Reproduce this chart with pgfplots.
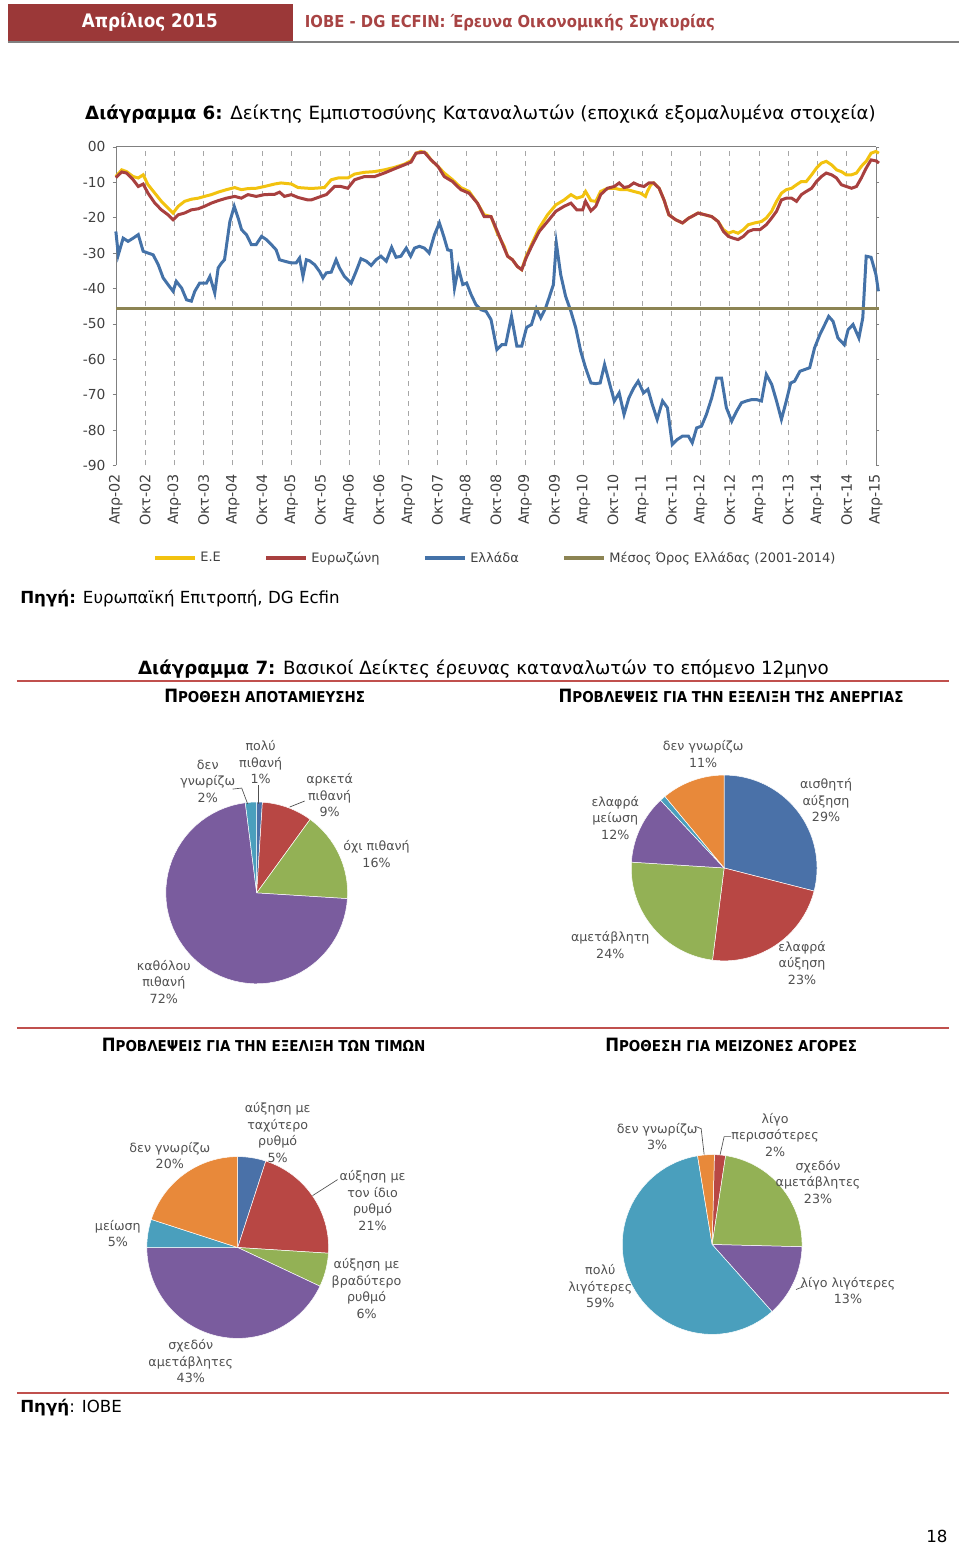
\documentclass[border=0pt]{standalone}
\usepackage{pgfplots}
\pgfplotsset{compat=1.18}
\usepackage{fontspec}
\setmainfont{DejaVu Sans}
\newfontfamily\cond{DejaVu Sans Condensed}

\definecolor{headred}{HTML}{9B3838}
\definecolor{headtxt}{HTML}{A84444}
\definecolor{rulered}{HTML}{C0504D}
\definecolor{lbltext}{HTML}{505050}
\definecolor{ticktext}{HTML}{404040}
\definecolor{euy}{HTML}{F2C20F}
\definecolor{ezr}{HTML}{A8403F}
\definecolor{grb}{HTML}{4472A8}
\definecolor{avgc}{HTML}{8C8453}
\definecolor{pblue}{HTML}{4A71A8}
\definecolor{pred}{HTML}{B84744}
\definecolor{pgreen}{HTML}{93B155}
\definecolor{ppurple}{HTML}{7A5C9E}
\definecolor{paqua}{HTML}{4A9FBD}
\definecolor{porange}{HTML}{E8893A}

% one pie slice, from cumulative share #1 to #2 (percent), clockwise from 12 o'clock
\newcommand{\slice}[3]{%
  \addplot[fill=#3, draw=white, line width=0.3pt, domain={90-3.6*(#2)}:{90-3.6*(#1)}, samples=60]
    ({cos(x)},{sin(x)}) -- (0,0) -- cycle;}

\pgfplotsset{
  pie/.style={hide axis, scale only axis, xmin=-1, xmax=1, ymin=-1, ymax=1,
    width=#1, height=#1, anchor=center, clip=false},
}

\begin{document}
\begin{tikzpicture}[x=0.6pt, y=-0.6pt,
  lbl/.style={align=center, text=lbltext, font=\fontsize{7.6}{9.9}\selectfont, inner sep=0pt},
  head/.style={font=\cond\bfseries\fontsize{9}{10}\selectfont, inner sep=0pt}]
\path (0,0) rectangle (960,1548);

% page header
\fill[headred] (8,4) rectangle (293,42);
\node[text=white, font=\cond\bfseries\fontsize{11.2}{13}\selectfont] at (150,22) {Απρίλιος 2015};
\node[anchor=west, inner sep=0pt, text=headtxt, font=\cond\bfseries\fontsize{9.9}{12}\selectfont] at (305,23) {ΙΟΒΕ - DG ECFIN: Έρευνα Οικονομικής Συγκυρίας};
\draw[gray, line width=1pt] (8,42) -- (960,42);

\node[anchor=west, inner sep=0pt, font=\fontsize{10.95}{13}\selectfont] at (85,114) {\textbf{Διάγραμμα 6:} Δείκτης Εμπιστοσύνης Καταναλωτών (εποχικά εξομαλυμένα στοιχεία)};

\begin{axis}[
  at={(69.6pt,-279.6pt)}, anchor=south west,
  scale only axis, width=456.6pt, height=191.4pt,
  xmin=0, xmax=156, ymin=-90, ymax=0, clip=false,
  separate axis lines,
  x axis line style={draw=none},
  y axis line style={gray},
  xtick={0,6,...,156},
  xticklabels={Απρ-02,Οκτ-02,Απρ-03,Οκτ-03,Απρ-04,Οκτ-04,Απρ-05,Οκτ-05,Απρ-06,Οκτ-06,Απρ-07,Οκτ-07,Απρ-08,Οκτ-08,Απρ-09,Οκτ-09,Απρ-10,Οκτ-10,Απρ-11,Οκτ-11,Απρ-12,Οκτ-12,Απρ-13,Οκτ-13,Απρ-14,Οκτ-14,Απρ-15},
  xticklabel style={rotate=90, anchor=east, text=ticktext, font=\fontsize{8.6}{10}\selectfont, inner sep=3pt},
  xtick style={draw=none},
  ytick={-90,-80,...,0},
  yticklabels={-90,-80,-70,-60,-50,-40,-30,-20,-10,00},
  yticklabel style={text=ticktext, font=\fontsize{8.3}{10}\selectfont, inner sep=4pt},
  ytick style={gray}, tick align=outside, major tick length=2pt,
  xmajorgrids, major grid style={dashed, gray!70, line width=0.4pt},
  legend style={at={(0.5,-0.292)}, anchor=center, legend columns=4, draw=none, fill=none,
    font=\fontsize{7.8}{9}\selectfont, text=ticktext,
    /tikz/every even column/.append style={column sep=24pt}},
  legend image code/.code={\draw[#1, line width=2.4pt] (0pt,0pt) -- (24pt,0pt);},
]
\draw[gray, line width=0.6pt] (rel axis cs:0,1) -- (rel axis cs:1,1);

\addplot[euy, line width=1.8pt] coordinates {
(0,-8.4) (1.2,-6.5) (2.2,-7) (3.55,-8.4) (4.6,-8.8) (5.6,-7.9) (6.6,-10.7) (8,-13.1) (9.35,-15.4) (10.7,-17.3) (11.75,-18.7) (12.8,-16.8) (14.1,-15.4) (15.5,-14.8) (16.9,-14.5) (18.2,-14) (19.6,-13.5) (21,-12.8) (22.7,-12.1) (24.4,-11.5) (25.75,-12.1) (27.1,-11.8) (28.8,-11.7) (30.5,-11.2) (32.6,-10.5) (33.9,-10.2) (36,-10.5) (37.4,-11.5) (39.4,-11.7) (40.8,-11.7) (42.8,-11.5) (44.2,-9.3) (45.6,-8.8) (47.6,-8.8) (49,-7.7) (51,-7.2) (53.1,-7) (55.1,-6.5) (57.2,-5.8) (59.2,-4.9) (60.6,-3.9) (61.6,-1.8) (62.6,-1.3) (63.7,-1.8) (64.7,-3.7) (66.1,-5.5) (67.4,-7.4) (69.1,-9.3) (70.8,-11.5) (72.5,-12.6) (74.2,-15.9) (75.6,-19.2) (77,-19.7) (78.3,-24.4) (79.7,-28.1) (80.4,-30.9) (81.4,-31.9) (82.4,-33.8) (83.3,-34.7) (84.2,-31) (85.5,-27) (86.9,-22.9) (88.6,-19.2) (90.3,-16.4) (92,-15) (93.4,-13.5) (94.6,-14.5) (95.8,-14) (96.4,-12.6) (97.5,-15.2) (98.5,-15.4) (99.5,-12.6) (100.9,-11.7) (102.3,-11.7) (103.6,-12.1) (105,-12.1) (106.3,-12.6) (107.7,-13.1) (108.7,-14) (109.1,-12.6) (109.8,-10.7) (110.4,-10.2) (111.5,-11.7) (112.5,-15) (113.5,-19.2) (114.9,-20.6) (116.3,-21.5) (117.6,-20.1) (119.5,-18.7) (122.3,-19.7) (123.6,-21.1) (124.7,-23.4) (125.7,-24.4) (126.7,-23.9) (127.7,-24.4) (128.8,-23.4) (129.8,-22) (131.1,-21.5) (132.5,-21.1) (133.5,-20.1) (134.6,-18.2) (135.6,-15.4) (136.6,-13.1) (137.6,-12.1) (138.7,-11.7) (139.7,-10.7) (140.7,-9.8) (141.7,-9.8) (142.8,-7.9) (143.8,-6) (144.8,-4.6) (145.8,-4.1) (146.9,-5.1) (147.9,-6.5) (148.9,-7) (149.9,-7.9) (151,-7.9) (152,-7.4) (153,-5.5) (154,-4.1) (155,-1.8) (156,-1.3) (156.6,-1.8)
};
\addlegendentry{Ε.Ε}

\addplot[ezr, line width=1.8pt] coordinates {
(0,-8.7) (1.2,-7.1) (2.2,-7.4) (3.55,-9.3) (4.6,-11.2) (5.6,-10.5) (6.6,-13.1) (8,-15.9) (9.35,-17.8) (10.7,-19.2) (11.75,-20.6) (12.8,-19.2) (14.1,-18.7) (15.5,-17.8) (16.9,-17.5) (18.2,-16.8) (19.6,-15.9) (21,-15.2) (22.7,-14.5) (24.4,-14) (25.75,-14.5) (27.1,-13.5) (28.8,-14) (30.5,-13.5) (32.6,-13.4) (33.6,-12.8) (34.6,-14) (36,-13.5) (37.4,-14.3) (39.4,-15) (40.1,-15) (42.1,-14) (43.2,-13.5) (44.9,-11.2) (46.2,-11.2) (47.6,-11.7) (49,-9.3) (51,-8.4) (53.1,-8.4) (55.1,-7.4) (57.2,-6.2) (59.2,-5.1) (60.6,-4.3) (61.6,-1.8) (63.3,-1.5) (64.7,-3.7) (66.1,-5.5) (67.4,-8.4) (69.1,-9.8) (70.8,-12.1) (72.5,-13.1) (74.2,-15.9) (75.6,-19.7) (77,-19.7) (78.3,-23.9) (79.7,-28.6) (80.4,-30.9) (81.4,-31.9) (82.4,-33.8) (83.3,-34.7) (84.2,-31.4) (85.5,-27.6) (86.9,-23.9) (88.6,-21.1) (90.3,-18.2) (92,-16.8) (93.4,-15.9) (94.6,-17.8) (95.8,-17.8) (96.4,-15.4) (97.5,-18.1) (98.5,-16.8) (99.5,-13.5) (100.9,-11.7) (102.3,-11.2) (103.3,-10.2) (104.3,-11.5) (105.3,-11.2) (106.3,-10.2) (107.4,-10.9) (108.4,-11.2) (109.4,-10.2) (110.4,-10.2) (111.5,-11.7) (112.5,-15) (113.5,-19.2) (114.9,-20.6) (116.3,-21.5) (117.6,-20.1) (118.2,-19.7) (119.5,-18.7) (120.9,-19.2) (122.3,-19.7) (123.6,-21.1) (124.7,-23.9) (125.7,-25.3) (126.7,-25.8) (127.7,-26.2) (128.8,-25.3) (129.8,-23.9) (130.8,-23.4) (132.2,-23.4) (133.5,-22) (134.6,-20.1) (135.6,-18.2) (136.6,-15) (137.6,-14.5) (138.7,-14.5) (139.7,-15.4) (140.7,-13.5) (141.7,-12.6) (142.8,-11.7) (143.8,-9.8) (144.8,-8.4) (145.8,-7.4) (146.9,-7.9) (147.9,-8.8) (148.9,-10.7) (149.9,-11.2) (151,-11.7) (152,-11.2) (153,-8.8) (154,-6) (155,-3.7) (156.1,-4) (156.6,-4.6)
};
\addlegendentry{Ευρωζώνη}

\addplot[grb, line width=1.8pt] coordinates {
(0,-23.9) (0.5,-30.5) (1.5,-25.8) (2.5,-26.7) (3.55,-25.8) (4.6,-24.8) (5.6,-29.5) (6.6,-30) (7.65,-30.5) (8.7,-33.3) (9.7,-37) (10.7,-38.9) (11.75,-40.8) (12.4,-38) (13.5,-39.9) (14.5,-43.2) (15.5,-43.6) (16.2,-40.8) (17.2,-38.5) (18.6,-38.5) (19.3,-36.6) (20.3,-41.3) (21,-34.2) (21.7,-32.8) (22.3,-31.9) (23.4,-21.1) (24.3,-16.8) (25.1,-20.1) (25.8,-23.4) (26.8,-24.8) (27.8,-27.6) (28.8,-27.6) (29.9,-25.3) (30.9,-26.2) (31.9,-27.6) (32.9,-29.1) (33.6,-31.9) (34.6,-32.3) (36,-32.8) (37,-32.8) (37.7,-31.4) (38.4,-36.6) (39.1,-31.9)
(39.75,-32.2) (40.8,-33.3) (41.8,-35.2) (42.5,-37) (43.2,-35.6) (44.2,-35.4) (45.2,-31.9) (45.9,-34.2) (46.9,-36.6) (48.3,-38.5) (49.3,-35.2) (50.3,-31.6) (51.4,-32.3) (52.4,-33.5) (53.4,-31.9) (54.4,-30.9) (55.5,-32.3) (56.6,-28.4) (57.5,-31.2) (58.5,-30.9) (59.6,-28.6) (60.5,-30.9) (61.3,-28.6) (62.3,-28.1) (63.3,-28.6) (64.3,-30) (65.4,-24.8) (66.4,-21.5) (67.3,-25.3) (68.1,-29.1) (68.8,-29.3) (69.5,-39.9) (70.3,-34.2) (71.2,-38.9) (72,-38.5) (72.9,-41.7) (73.9,-44.6) (74.9,-46) (76,-46.5) (77,-48.8) (78.2,-57.3) (79.2,-55.9)
(80,-55.9) (81.2,-47.9) (82.3,-56.3) (83.3,-56.3) (84.3,-51) (85.3,-50.2) (86.3,-45.7) (87.2,-48.3) (88.2,-45.5) (88.9,-42.7) (89.8,-38.9) (90.4,-27.2) (91.3,-36.1) (92.3,-42.2) (93.4,-46.5) (94.4,-51.2) (95.4,-57.7) (96.4,-62.4) (97.5,-66.7) (98.5,-66.9) (99.4,-66.7) (100.3,-61.5) (101.2,-66.2) (102.3,-71.8) (103.3,-69.5) (104.3,-75.6) (105.3,-70.9) (106.3,-68.1) (107.2,-66.2) (108.3,-69.5) (109.2,-68.5) (110.1,-72.8) (111.1,-77) (112.2,-71.8) (113.2,-73.7) (114.2,-84.1) (115.2,-82.7) (116.3,-81.7)
(117.5,-81.7) (118.3,-83.6) (119.2,-79.4) (120.2,-78.9) (121.2,-75.6) (122.3,-70.9) (123.3,-65.3) (124.3,-65.3) (125.3,-73.7) (126.4,-77.5) (127.4,-74.7) (128.4,-72.3) (129.4,-71.8) (130.5,-71.4) (131.5,-71.4) (132.5,-71.8) (133.5,-64.3) (134.6,-67.1) (135.6,-71.8) (136.6,-77) (137.6,-71.8) (138.5,-66.7) (139.3,-66.2) (140.4,-63.4) (141.4,-62.9) (142.4,-62.4) (143.4,-56.8) (144.5,-53) (145.5,-50.2) (146.3,-47.9) (147.2,-49.3) (148.2,-54) (149.5,-55.9) (150.3,-51.6) (151.3,-50.2) (152.5,-54) (153.3,-48.3) (154,-30.9) (155,-31.2) (156,-36.1) (156.5,-40.8)
};
\addlegendentry{Ελλάδα}

\addplot[avgc, line width=1.8pt] coordinates {(0,-45.7) (156.6,-45.7)};
\addlegendentry{Μέσος Όρος Ελλάδας (2001-2014)}
\end{axis}

\node[anchor=west, inner sep=0pt, font=\fontsize{10}{12}\selectfont] at (20,599) {\textbf{Πηγή:} Ευρωπαϊκή Επιτροπή, DG Ecfin};

\node[font=\fontsize{10.95}{13}\selectfont] at (484,670) {\textbf{Διάγραμμα 7:} Βασικοί Δείκτες έρευνας καταναλωτών το επόμενο 12μηνο};
\draw[rulered, line width=1.2pt] (17,682) -- (950,682);
\node[head] at (265,697) {{\fontsize{11}{12}\selectfont Π}ΡΟΘΕΣΗ ΑΠΟΤΑΜΙΕΥΣΗΣ};
\node[head] at (732,697) {{\fontsize{11}{12}\selectfont Π}ΡΟΒΛΕΨΕΙΣ ΓΙΑ ΤΗΝ ΕΞΕΛΙΞΗ ΤΗΣ ΑΝΕΡΓΙΑΣ};

% pie 1: saving intention
\begin{axis}[pie=109.2pt, at={(154.2pt,-536.4pt)}]
\slice{0}{1}{pblue}
\slice{1}{10}{pred}
\slice{10}{26}{pgreen}
\slice{26}{98}{ppurple}
\slice{98}{100}{paqua}
\end{axis}
\node[lbl] at (261,763) {πολύ\\πιθανή\\1\%};
\node[lbl] at (208,782) {δεν\\γνωρίζω\\2\%};
\node[lbl] at (330,796) {αρκετά\\πιθανή\\9\%};
\node[lbl] at (377,855) {όχι πιθανή\\16\%};
\node[lbl] at (164,983) {καθόλου\\πιθανή\\72\%};
\draw[lbltext, line width=0.4pt] (233,790) -- (242,789) -- (248,805);
\draw[lbltext, line width=0.4pt] (259,786) -- (259,805);
\draw[lbltext, line width=0.4pt] (290,808) -- (305,802);

% pie 2: unemployment
\begin{axis}[pie=111.6pt, at={(435pt,-521.4pt)}]
\slice{0}{29}{pblue}
\slice{29}{52}{pred}
\slice{52}{76}{pgreen}
\slice{76}{88}{ppurple}
\slice{88}{89}{paqua}
\slice{89}{100}{porange}
\end{axis}
\node[lbl] at (704,755) {δεν γνωρίζω\\11\%};
\node[lbl] at (827,801) {αισθητή\\αύξηση\\29\%};
\node[lbl] at (616,819) {ελαφρά\\μείωση\\12\%};
\node[lbl] at (611,946) {αμετάβλητη\\24\%};
\node[lbl] at (803,964) {ελαφρά\\αύξηση\\23\%};

\draw[rulered, line width=1.2pt] (17,1029) -- (950,1029);
\node[head] at (264,1046) {{\fontsize{11}{12}\selectfont Π}ΡΟΒΛΕΨΕΙΣ ΓΙΑ ΤΗΝ ΕΞΕΛΙΞΗ ΤΩΝ ΤΙΜΩΝ};
\node[head] at (732,1046) {{\fontsize{11}{12}\selectfont Π}ΡΟΘΕΣΗ ΓΙΑ ΜΕΙΖΟΝΕΣ ΑΓΟΡΕΣ};

% pie 3: prices
\begin{axis}[pie=109.2pt, at={(142.8pt,-749.4pt)}]
\slice{0}{5}{pblue}
\slice{5}{26}{pred}
\slice{26}{32}{pgreen}
\slice{32}{75}{ppurple}
\slice{75}{80}{paqua}
\slice{80}{100}{porange}
\end{axis}
\node[lbl] at (278,1134) {αύξηση με\\ταχύτερο\\ρυθμό\\5\%};
\node[lbl] at (170,1157) {δεν γνωρίζω\\20\%};
\node[lbl] at (373,1202) {αύξηση με\\τον ίδιο\\ρυθμό\\21\%};
\node[lbl] at (118,1235) {μείωση\\5\%};
\node[lbl] at (367,1290) {αύξηση με\\βραδύτερο\\ρυθμό\\6\%};
\node[lbl] at (191,1363) {σχεδόν\\αμετάβλητες\\43\%};
\draw[lbltext, line width=0.4pt] (338,1181) -- (313,1197);

% pie 4: major purchases
\begin{axis}[pie=108pt, at={(427.8pt,-747.6pt)}]
\slice{0}{0.4}{pblue}
\slice{0.4}{2.4}{pred}
\slice{2.4}{25.4}{pgreen}
\slice{25.4}{38.4}{ppurple}
\slice{38.4}{97.4}{paqua}
\slice{97.4}{100.4}{porange}
\end{axis}
\node[lbl] at (658,1138) {δεν γνωρίζω\\3\%};
\node[lbl] at (776,1136) {λίγο\\περισσότερες\\2\%};
\node[lbl] at (819,1183) {σχεδόν\\αμετάβλητες\\23\%};
\node[lbl] at (601,1288) {πολύ\\λιγότερες\\59\%};
\node[lbl] at (849,1292) {λίγο λιγότερες\\13\%};
\draw[lbltext, line width=0.4pt] (697,1128) -- (702,1130) -- (705,1156);
\draw[lbltext, line width=0.4pt] (732,1138) -- (725,1138) -- (721,1156);
\draw[lbltext, line width=0.4pt] (805,1288) -- (797,1291);

\draw[rulered, line width=1.2pt] (17,1395) -- (950,1395);
\node[anchor=west, inner sep=0pt, font=\fontsize{10}{12}\selectfont] at (20,1409) {\textbf{Πηγή}: ΙΟΒΕ};
\node[font=\fontsize{10}{12}\selectfont] at (938,1538) {18};
\end{tikzpicture}
\end{document}
